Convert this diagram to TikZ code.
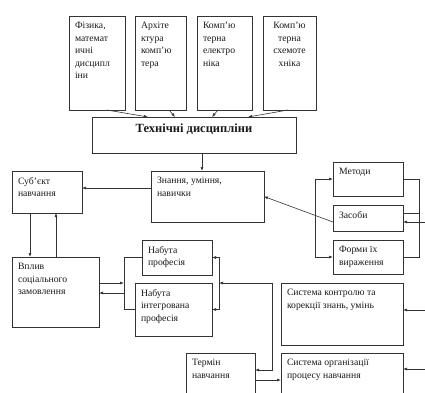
\documentclass[tikz,border=0pt]{standalone}
\usepackage{fontspec}
\setmainfont{Liberation Serif}
\usetikzlibrary{arrows.meta}
\newcommand{\Cell}[3]{\parbox[t][#2][t]{#1}{\raggedright #3}}
\tikzstyle{blk} = [draw=black!80, line width=0.6pt, anchor=north west, inner xsep=6pt, inner ysep=6.5pt, outer sep=0pt, text=black!90, font=\fontsize{9.7}{12.5}\selectfont]
\tikzstyle{lnk} = [draw=black!80, line width=0.6pt]
\tikzstyle{arr} = [lnk, ->]

\begin{document}
\begin{tikzpicture}[x=1pt, y=-1pt, >={Latex[length=4pt,width=3pt]}]
\useasboundingbox (0,0) rectangle (425,392);
\clip (0,0) rectangle (425,392);

% Define nodes
\node[blk] (fiz)  at (69,16)   {\Cell{44pt}{81pt}{Фізика,\\ математ\\ ичні\\ дисципл\\ іни}};
\node[blk] (arch) at (135,16)  {\Cell{39pt}{81pt}{Архіте\\ ктура\\ комп’ю\\ тера}};
\node[blk] (ele)  at (197,16)  {\Cell{43pt}{81pt}{Комп’ю\\ терна\\ електро\\ ніка}};
\node[blk] (sch)  at (263,16)  {\Cell{41pt}{81pt}{\centering Комп’ю\\ терна\\ схемоте\\ хніка}};
\node[blk, font=\fontsize{12.5}{14}\selectfont\bfseries] (tech) at (92,117) {\Cell{192pt}{23pt}{\centering Технічні дисципліни}};

\node[blk] (zn)   at (151,171) {\Cell{101pt}{38pt}{Знання, уміння,\\ навички}};
\node[blk] (sub)  at (12,171)  {\Cell{58pt}{29pt}{Суб’єкт\\ навчання}};
\node[blk] (vpl)  at (12,257)  {\Cell{75pt}{57pt}{Вплив\\ соціального\\ замовлення}};

\node[blk] (met)  at (333,162) {\Cell{58pt}{21pt}{Методи}};
\node[blk] (zas)  at (333,205) {\Cell{58pt}{13pt}{Засоби}};
\node[blk] (form) at (333,240) {\Cell{58pt}{21pt}{Форми їх\\ вираження}};

\node[blk] (prof) at (142,240) {\Cell{58pt}{22pt}{Набута\\ професія}};
\node[blk] (intp) at (135,283) {\Cell{65pt}{40pt}{Набута\\ інтегрована\\ професія}};

\node[blk] (kon)  at (281,283) {\Cell{110pt}{49pt}{Система контролю та\\ корекції знань, умінь}};
\node[blk] (term) at (186,353) {\Cell{57pt}{34pt}{Термін\\ навчання}};
\node[blk] (org)  at (281,353) {\Cell{110pt}{34pt}{Система організації\\ процесу навчання}};

% free ends at the right margin
\coordinate (inz) at (430,222);
\coordinate (ink) at (430,310);
\coordinate (ino) at (430,369);

% Edges
\draw[arr] ([xshift=10pt]fiz.south)   -- ([xshift=-46pt]tech.north);
\draw[arr] ([xshift=8.5pt]arch.south) -- ([xshift=-19pt]tech.north);
\draw[arr] ([xshift=-6.5pt]ele.south) -- ([xshift=18pt]tech.north);
\draw[arr] ([xshift=-1.5pt]sch.south) -- ([xshift=54pt]tech.north);
\draw[arr] ([xshift=8pt]tech.south)   -- ([xshift=8pt]tech.south |- zn.north);

\draw[arr] ([yshift=8.5pt]zn.west) -- ([yshift=8.5pt]zn.west -| sub.east);
\draw[arr] ([xshift=-17pt]sub.south) -- ([xshift=-17pt]sub.south |- vpl.north);
\draw[arr] ([xshift=9pt]sub.south |- vpl.north) -- ([xshift=9pt]sub.south);

\draw[arr] ([yshift=-4pt]zas.west) -- (zn.east);
\draw[lnk, <->] (met.west) -- ++(-18,0) |- (form.west);
\draw[lnk] (met.east) -- ++(16,0) |- (form.east);
\draw[lnk] ([yshift=5pt]zas.east) -- ++(16,0);

% Набута професія
\coordinate (pl) at ([xshift=-18pt]prof.west);
\coordinate (pr) at ([xshift=7pt]prof.east);
\draw[lnk] (prof.west) -- (pl) |- (intp.west);
\draw[lnk, <->] (prof.east) -- (pr) |- (intp.east);
\draw[arr] ([yshift=9pt]vpl.east) -- ([yshift=9pt]vpl.east -| pl);
\draw[arr] ([yshift=-1pt]vpl.east -| pl) -- ([yshift=-1pt]vpl.east);
\draw[lnk, <->] (pr |- intp.north) -- ++(53,0) |- ([yshift=6.5pt]term.east);
\draw[arr] ([yshift=-3.5pt]term.east) -- ([yshift=-3.5pt]term.east -| org.west);

\draw[arr] (inz) -- ([yshift=-4pt]zas.east);
\draw[arr] (ink) -- ([yshift=4pt]kon.east);
\draw[arr] (ino) -- ([yshift=7.5pt]org.east);

\end{tikzpicture}
\end{document}
